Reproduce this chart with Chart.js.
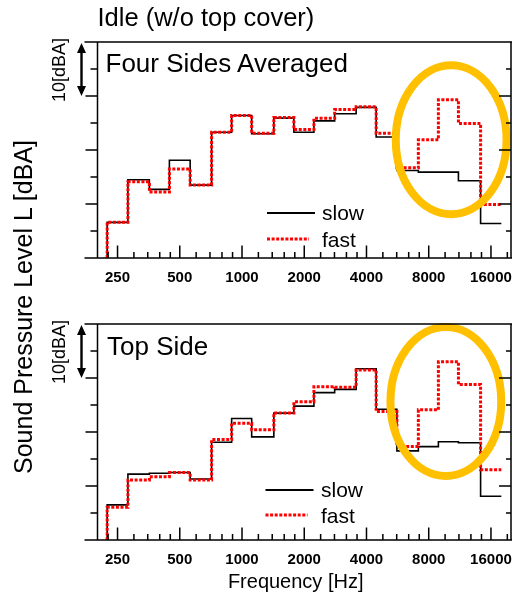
<!DOCTYPE html>
<html>
<head>
<meta charset="utf-8">
<script src="https://cdn.jsdelivr.net/npm/chart.js@4.4.1/dist/chart.umd.min.js"></script>
<style>
  body { margin: 0; background: #fff; }
  #wrap { position: relative; width: 512px; height: 597px; overflow: hidden; font-family: "Liberation Sans", Arial, sans-serif; color: #000; }
  canvas { position: absolute; left: 0; }
  .t { position: absolute; white-space: nowrap; }
  .rot { transform: translate(-50%, -50%) rotate(-90deg); }
</style>
</head>
<body>
<div id="wrap">
  <canvas id="c1" width="512" height="300" style="top:0"></canvas>
  <canvas id="c2" width="512" height="300" style="top:282px"></canvas>

  <div class="t" style="left:97.5px;top:4.8px;font-size:25.5px;line-height:25.5px">Idle (w/o top cover)</div>
  <div class="t" style="left:105.5px;top:50px;font-size:26px;line-height:26px">Four Sides Averaged</div>
  <div class="t" style="left:107px;top:332.5px;font-size:26px;line-height:26px">Top Side</div>

  <div class="t" style="left:322px;top:202px;font-size:21px;line-height:21px">slow</div>
  <div class="t" style="left:322px;top:229px;font-size:21px;line-height:21px">fast</div>
  <div class="t" style="left:321px;top:479px;font-size:21px;line-height:21px">slow</div>
  <div class="t" style="left:321px;top:505px;font-size:21px;line-height:21px">fast</div>

  <div class="t rot" style="left:23px;top:307px;font-size:25px;line-height:25px">Sound Pressure Level L [dBA]</div>
  <div class="t rot" style="left:58.5px;top:70px;font-size:18px;line-height:18px">10[dBA]</div>
  <div class="t rot" style="left:58.5px;top:352px;font-size:18px;line-height:18px">10[dBA]</div>

  <div class="t" style="left:195.7px;top:571px;width:200px;text-align:center;font-size:20px;line-height:20px">Frequency [Hz]</div>
</div>

<script>
// 1/3 octave band centres [Hz]
const bands = [250, 315, 400, 500, 630, 800, 1000, 1250, 1600, 2000, 2500, 3150, 4000, 5000, 6300, 8000, 10000, 12500, 16000];
const octaveTicks = [250, 500, 1000, 2000, 4000, 8000, 16000];

// relative levels [dB], 0 = bottom of the panel
const fourSlow = [6.6, 14.5, 12.7, 18.1, 13.5, 23.3, 26.4, 23.0, 25.9, 23.3, 25.4, 26.7, 27.9, 22.4, 16.2, 15.9, 15.9, 14.3, 6.4];
const fourFast = [6.6, 14.1, 12.2, 16.5, 13.5, 23.3, 26.4, 23.1, 26.0, 23.8, 25.9, 27.5, 28.0, 23.1, 16.7, 21.9, 29.3, 24.9, 9.9];
const topSlow = [6.5, 12.2, 12.35, 12.5, 11.3, 18.1, 22.5, 19.1, 23.5, 24.8, 27.3, 27.9, 31.7, 24.2, 16.5, 17.3, 18.2, 18.0, 8.1];
const topFast = [6.05, 11.1, 11.7, 12.5, 11.1, 18.6, 21.6, 20.4, 23.5, 25.6, 28.4, 28.3, 31.5, 23.8, 17.3, 24.1, 33.0, 28.8, 13.0];

const FONT = '"Liberation Sans", Arial, sans-serif';
const GOLD = '#FFC000';

// minor ticks: 1.2, 1.4, 1.6, 1.8 x each octave tick
const minorTicks = [];
[125].concat(octaveTicks).forEach((b) => {
  [1.2, 1.4, 1.6, 1.8].forEach((m) => {
    const v = b * m;
    if (v > 200 && v < 20000) minorTicks.push(v);
  });
});

// band levels -> step outline (lower band edge, level), closed at the upper edge of the last band
function steps(levels) {
  const k = Math.pow(2, 1 / 6);
  const pts = [{ x: bands[0] / k, y: 0 }];
  bands.forEach((f, i) => pts.push({ x: f / k, y: levels[i] }));
  pts.push({ x: bands[bands.length - 1] * k, y: levels[levels.length - 1] });
  return pts;
}

const framePlugin = {
  id: 'frame',
  afterDatasetsDraw(chart, args, opts) {
    const { ctx, chartArea: a, scales: { x, y } } = chart;
    ctx.save();
    ctx.strokeStyle = '#000';
    ctx.lineCap = 'butt';

    // ellipse highlight
    const e = opts.ellipse;
    const cx = x.getPixelForValue(e.f);
    const cy = y.getPixelForValue(e.db);
    const rx = cx - x.getPixelForValue(e.f / Math.pow(2, e.oct));
    const ry = y.getPixelForValue(e.db - e.ddb) - cy;
    ctx.beginPath();
    ctx.ellipse(cx, cy, rx, ry, 0, 0, Math.PI * 2);
    ctx.strokeStyle = GOLD;
    ctx.lineWidth = 8;
    ctx.stroke();

    // frame
    ctx.strokeStyle = '#000';
    ctx.lineWidth = 1.5;
    ctx.beginPath();
    ctx.moveTo(a.left - 13, a.top); ctx.lineTo(a.right + 2, a.top);
    ctx.moveTo(a.left - 13, a.bottom); ctx.lineTo(a.right + 2, a.bottom);
    ctx.moveTo(a.left, a.top); ctx.lineTo(a.left, a.bottom);
    ctx.moveTo(a.right, a.top); ctx.lineTo(a.right, a.bottom);

    // y ticks every 5 dB
    for (let v = 5; v < 40; v += 5) {
      const py = y.getPixelForValue(v);
      const major = v % 10 === 0;
      ctx.moveTo(a.left - (major ? 12 : 7), py); ctx.lineTo(a.left, py);
      ctx.moveTo(a.right - (major ? 12 : 5), py); ctx.lineTo(a.right, py);
    }
    // x ticks, pointing up into the panel
    octaveTicks.forEach((f) => {
      const px = x.getPixelForValue(f);
      ctx.moveTo(px, a.bottom); ctx.lineTo(px, a.bottom - 12.5);
    });
    minorTicks.forEach((f) => {
      const px = x.getPixelForValue(f);
      ctx.moveTo(px, a.bottom); ctx.lineTo(px, a.bottom - 6);
    });
    ctx.stroke();

    // 10 dB double arrow
    const ax = a.left - 16;
    const y1 = y.getPixelForValue(40) + 1;
    const y2 = y.getPixelForValue(30);
    ctx.lineWidth = 2.4;
    ctx.beginPath();
    ctx.moveTo(ax, y1 + 6); ctx.lineTo(ax, y2 - 6);
    ctx.stroke();
    ctx.fillStyle = '#000';
    ctx.beginPath();
    ctx.moveTo(ax, y1); ctx.lineTo(ax - 4.5, y1 + 10); ctx.lineTo(ax + 4.5, y1 + 10); ctx.closePath();
    ctx.moveTo(ax, y2); ctx.lineTo(ax - 4.5, y2 - 10); ctx.lineTo(ax + 4.5, y2 - 10); ctx.closePath();
    ctx.fill();

    // legend samples
    const lx = a.left + opts.legend.dx;
    ctx.beginPath();
    ctx.lineWidth = 1.8;
    ctx.moveTo(lx, a.top + opts.legend.dy1); ctx.lineTo(lx + 48, a.top + opts.legend.dy1);
    ctx.stroke();
    ctx.beginPath();
    ctx.strokeStyle = '#ff0000';
    ctx.lineWidth = 3;
    ctx.setLineDash([3, 1.6]);
    ctx.moveTo(lx, a.top + opts.legend.dy2); ctx.lineTo(lx + 42, a.top + opts.legend.dy2);
    ctx.stroke();
    ctx.restore();
  }
};

function makeChart(id, slow, fast, ellipse, legend) {
  return new Chart(document.getElementById(id), {
    type: 'line',
    data: {
      datasets: [
        {
          label: 'fast',
          data: steps(fast),
          stepped: 'before',
          borderColor: '#ff0000',
          borderWidth: 3,
          borderDash: [3, 1.6],
          pointRadius: 0,
          fill: false,
          order: 0
        },
        {
          label: 'slow',
          data: steps(slow),
          stepped: 'before',
          borderColor: '#000',
          borderWidth: 1.6,
          pointRadius: 0,
          fill: false,
          order: 1
        }
      ]
    },
    options: {
      responsive: false,
      animation: false,
      events: [],
      layout: { padding: { left: 97.5, right: 1, top: 42, bottom: 2 } },
      scales: {
        x: {
          type: 'logarithmic',
          min: 200,
          max: 20000,
          afterBuildTicks: (s) => { s.ticks = octaveTicks.map((v) => ({ value: v })); },
          // labels may run to the canvas edge, don't let them shrink the plot
          afterFit: (s) => { s.paddingLeft = 0; s.paddingRight = 0; },
          ticks: {
            autoSkip: false,
            maxRotation: 0,
            padding: 11,
            color: '#000',
            font: { family: FONT, size: 15, weight: 'bold' },
            callback: (v) => String(v)
          },
          grid: { display: false, drawTicks: false },
          border: { display: false }
        },
        y: { display: false, min: 0, max: 40 }
      },
      plugins: {
        legend: { display: false },
        tooltip: { enabled: false },
        frame: { ellipse: ellipse, legend: legend }
      }
    },
    plugins: [framePlugin]
  });
}

makeChart('c1', fourSlow, fourFast, { f: 10270, db: 21.9, oct: 0.89, ddb: 13.8 }, { dx: 169.5, dy1: 171, dy2: 197 });
makeChart('c2', topSlow, topFast, { f: 9680, db: 25.65, oct: 0.89, ddb: 13.8 }, { dx: 168, dy1: 166, dy2: 191 });
</script>
</body>
</html>
